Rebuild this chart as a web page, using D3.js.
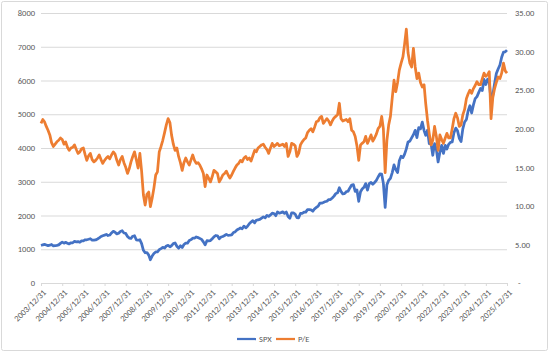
<!DOCTYPE html>
<html>
<head>
<meta charset="utf-8">
<script src="https://cdn.jsdelivr.net/npm/d3@7"></script>
<style>
  body { margin: 0; background: #fff; }
  svg text { font-family: Calibri, "Liberation Sans", Arial, sans-serif; fill: #595959; }
</style>
</head>
<body>
<div id="chart"></div>
<script>
// month-end values, 2003/12 .. 2025/12
const spx = [
  1112, // 2003-12
  1131, 1145, 1126, 1107, 1121, 1141, 1102, 1104, 1115, 1130, 1174, 1212, // 2004
  1181, 1204, 1181, 1157, 1192, 1191, 1234, 1220, 1229, 1207, 1249, 1248, // 2005
  1280, 1281, 1295, 1311, 1270, 1270, 1277, 1304, 1336, 1378, 1401, 1418, // 2006
  1438, 1407, 1421, 1482, 1531, 1503, 1455, 1474, 1527, 1549, 1481, 1468, // 2007
  1379, 1331, 1323, 1386, 1400, 1280, 1267, 1283, 1166, 969, 896, 903,    // 2008
  826, 690, 798, 873, 919, 919, 987, 1021, 1057, 1036, 1096, 1115,        // 2009
  1074, 1104, 1169, 1187, 1089, 1031, 1102, 1049, 1141, 1183, 1181, 1258, // 2010
  1286, 1327, 1326, 1364, 1345, 1321, 1292, 1219, 1131, 1253, 1247, 1258, // 2011
  1312, 1366, 1408, 1398, 1310, 1362, 1379, 1407, 1441, 1412, 1416, 1426, // 2012
  1498, 1515, 1569, 1598, 1631, 1606, 1686, 1633, 1682, 1757, 1806, 1848, // 2013
  1783, 1859, 1872, 1884, 1924, 1960, 1931, 2003, 1972, 2018, 2068, 2059, // 2014
  1995, 2105, 2068, 2086, 2107, 2063, 2104, 1972, 1920, 2079, 2080, 2044, // 2015
  1940, 1932, 2060, 2065, 2097, 2099, 2174, 2171, 2168, 2126, 2199, 2239, // 2016
  2279, 2364, 2363, 2384, 2412, 2423, 2470, 2472, 2519, 2575, 2648, 2674, // 2017
  2824, 2714, 2641, 2648, 2705, 2718, 2816, 2902, 2914, 2712, 2760, 2420, // 2018
  2704, 2784, 2834, 2946, 2752, 2942, 2980, 2926, 2977, 3038, 3141, 3231, // 2019
  3226, 2954, 2240, 2912, 3044, 3100, 3271, 3500, 3363, 3270, 3622, 3756, // 2020
  3714, 3811, 3973, 4181, 4204, 4298, 4395, 4523, 4308, 4605, 4567, 4766, // 2021
  4516, 4374, 4530, 4132, 4132, 3785, 4130, 3955, 3586, 3872, 4080, 3840, // 2022
  4077, 3970, 4109, 4169, 4180, 4450, 4589, 4508, 4288, 4194, 4568, 4770, // 2023
  4846, 5096, 5254, 5036, 5278, 5460, 5522, 5648, 5762, 5705, 6032, 5882, // 2024
  6041, 5955, 5400, 5569, 5912, 6205, 6339, 6460, 6688, 6840, 6849, 6900  // 2025
];

const pe = [
  20.7,
  21.2, 20.9, 20.3, 19.8, 19.2, 18.2, 17.7, 18.0, 18.3, 18.5, 18.8, 18.6,
  18.0, 18.3, 17.6, 17.2, 17.5, 17.6, 17.9, 17.3, 16.8, 17.0, 17.4, 17.5,
  16.6, 15.9, 16.5, 16.8, 16.0, 15.7, 15.9, 16.2, 16.6, 16.0, 15.5, 15.9,
  16.2, 16.4, 16.1, 16.6, 17.0, 16.7, 15.9, 15.3, 16.0, 16.4, 15.6, 15.0,
  14.2, 14.8, 15.7, 16.4, 17.0, 16.0, 14.9, 16.8, 14.5, 11.4, 10.1, 11.5,
  11.8, 9.9, 11.0, 12.3, 14.0, 14.4, 17.0, 17.7, 18.5, 19.5, 20.5, 21.3,
  20.8, 19.2, 18.0, 17.2, 17.5, 16.4, 15.6, 14.6, 15.6, 16.2, 15.7, 15.3,
  16.0, 16.6, 15.9, 15.5, 15.6, 15.3, 14.8, 14.2, 12.5, 14.0, 13.6, 13.1,
  13.8, 14.6, 14.4, 14.2, 13.1, 13.5, 14.0, 14.2, 14.5, 14.0, 13.6, 14.0,
  14.5, 14.9, 15.3, 15.5, 15.9, 15.7, 16.2, 16.4, 16.0, 16.2, 15.8, 16.5,
  17.2, 17.0, 17.5, 17.7, 17.9, 18.0, 17.6, 17.3, 16.8, 17.5, 18.1, 17.7,
  17.9, 18.1, 17.8, 17.9, 18.0, 17.7, 18.1, 16.4, 17.0, 18.1, 18.0, 17.8,
  16.4, 16.8, 17.9, 18.3, 18.6, 18.8, 19.5, 19.8, 20.0, 19.6, 20.2, 20.9,
  21.0, 21.4, 21.6, 20.7, 21.0, 21.3, 21.0, 20.5, 21.0, 21.4, 21.6, 21.8,
  23.3, 21.3, 21.0, 21.1, 21.2, 20.9, 21.3, 19.8, 19.6, 19.0, 17.8, 15.9,
  17.9, 18.1, 18.3, 19.0, 18.1, 18.6, 19.2, 18.4, 18.8, 19.3, 20.0, 20.3,
  21.6, 20.0, 14.3, 18.5, 20.5, 21.6, 24.0, 26.3, 24.8, 26.0, 27.6, 28.5,
  29.3, 30.9, 32.9, 29.8, 28.5, 28.0, 30.4, 28.0, 26.5, 27.2, 26.0, 25.4,
  25.7, 23.3, 21.1, 19.4, 17.9, 18.5, 20.3, 19.0, 17.2, 19.2, 18.6, 18.1,
  18.8, 19.4, 18.8, 18.8, 20.0, 21.3, 22.0, 21.4, 20.3, 20.5, 21.8, 22.5,
  23.9, 24.5, 25.0, 24.6, 25.2, 25.6, 26.1, 25.7, 25.7, 26.5, 27.2, 26.8,
  27.0, 27.4, 21.3, 24.0, 25.2, 26.0, 26.7, 26.5, 27.2, 28.5, 27.5, 27.2
];

const leftTicks = [0, 1000, 2000, 3000, 4000, 5000, 6000, 7000, 8000];
const rightTicks = [0, 5, 10, 15, 20, 25, 30, 35];
const tickYears = d3.range(2003, 2026); // each 12/31
const seriesNames = ["SPX", "P/E"];
const colors = ["#4472C4", "#ED7D31"];

const width = 550, height = 353,
  margin = ({top: 13, right: 43, bottom: 70, left: 41});

const svg = d3.select("#chart")
  .append("svg")
  .attr("width", width)
  .attr("height", height);

// outer chart border
svg.append("rect")
  .attr("x", 1.5).attr("y", 1.5)
  .attr("width", width - 4).attr("height", height - 4)
  .attr("rx", 2)
  .attr("fill", "#fff")
  .attr("stroke", "#D9D9D9");

// month end dates
const dates = spx.map((d, i) => d3.timeDay.offset(new Date(2004, i, 1), -1));
const data = dates.map((d, i) => ({date: d, spx: spx[i], pe: pe[i]}));

let x = d3.scaleTime()
  .domain([new Date(2003, 11, 31), new Date(2025, 11, 31)])
  .range([margin.left, width - margin.right]);

let y = d3.scaleLinear()
  .domain([0, 8000])
  .range([height - margin.bottom, margin.top]);

let y2 = d3.scaleLinear()
  .domain([0, 35])
  .range([height - margin.bottom, margin.top]);

// gridlines + left axis
const yAxis = svg.append("g")
  .attr("transform", `translate(${margin.left},0)`)
  .call(d3.axisLeft(y).tickValues(leftTicks)
    .tickSize(-(width - margin.left - margin.right))
    .tickPadding(6)
    .tickFormat(d3.format("d")));
yAxis.select(".domain").remove();
yAxis.selectAll("line").attr("stroke", "#D9D9D9");
yAxis.selectAll("text").attr("font-size", 8.5);

// right axis
const y2Axis = svg.append("g")
  .attr("transform", `translate(${width - margin.right},0)`)
  .call(d3.axisRight(y2).tickValues(rightTicks).tickSize(0).tickPadding(8)
    .tickFormat(d => d === 0 ? "-" : d3.format(".2f")(d)));
y2Axis.select(".domain").remove();
y2Axis.selectAll("text").attr("font-size", 8.5)
  .attr("dx", d => d === 0 ? 3 : 0);

// x axis
const xAxis = svg.append("g")
  .attr("transform", `translate(0,${height - margin.bottom})`)
  .call(d3.axisBottom(x)
    .tickValues(tickYears.map(yr => new Date(yr, 11, 31)))
    .tickSize(3)
    .tickSizeOuter(0)
    .tickFormat(d3.timeFormat("%Y/%m/%d")));
xAxis.selectAll(".domain, line").attr("stroke", "#D9D9D9");
xAxis.selectAll("text")
  .attr("font-size", 8.5)
  .attr("text-anchor", "end")
  .attr("x", 0)
  .attr("y", 0)
  .attr("dy", "0.35em")
  .attr("transform", "translate(3,8) rotate(-45)");

let lineSpx = d3.line()
  .x(d => x(d.date))
  .y(d => y(d.spx));

let linePe = d3.line()
  .x(d => x(d.date))
  .y(d => y2(d.pe));

svg.append("path")
  .datum(data)
  .attr("d", lineSpx)
  .attr("fill", "none")
  .attr("stroke", colors[0])
  .attr("stroke-width", 2.75)
  .attr("stroke-linejoin", "round");

svg.append("path")
  .datum(data)
  .attr("d", linePe)
  .attr("fill", "none")
  .attr("stroke", colors[1])
  .attr("stroke-width", 2.75)
  .attr("stroke-linejoin", "round");

// legend
const legendX = [237, 276];
const legend = svg.selectAll(".legend")
  .data(seriesNames)
  .join("g")
  .attr("transform", (d, i) => `translate(${legendX[i]},339)`);
legend.append("line")
  .attr("x1", 0).attr("x2", 19)
  .attr("stroke", (d, i) => colors[i])
  .attr("stroke-width", 2.25);
legend.append("text")
  .attr("x", 22).attr("y", 3)
  .attr("font-size", 8.5)
  .text(d => d);
</script>
</body>
</html>
